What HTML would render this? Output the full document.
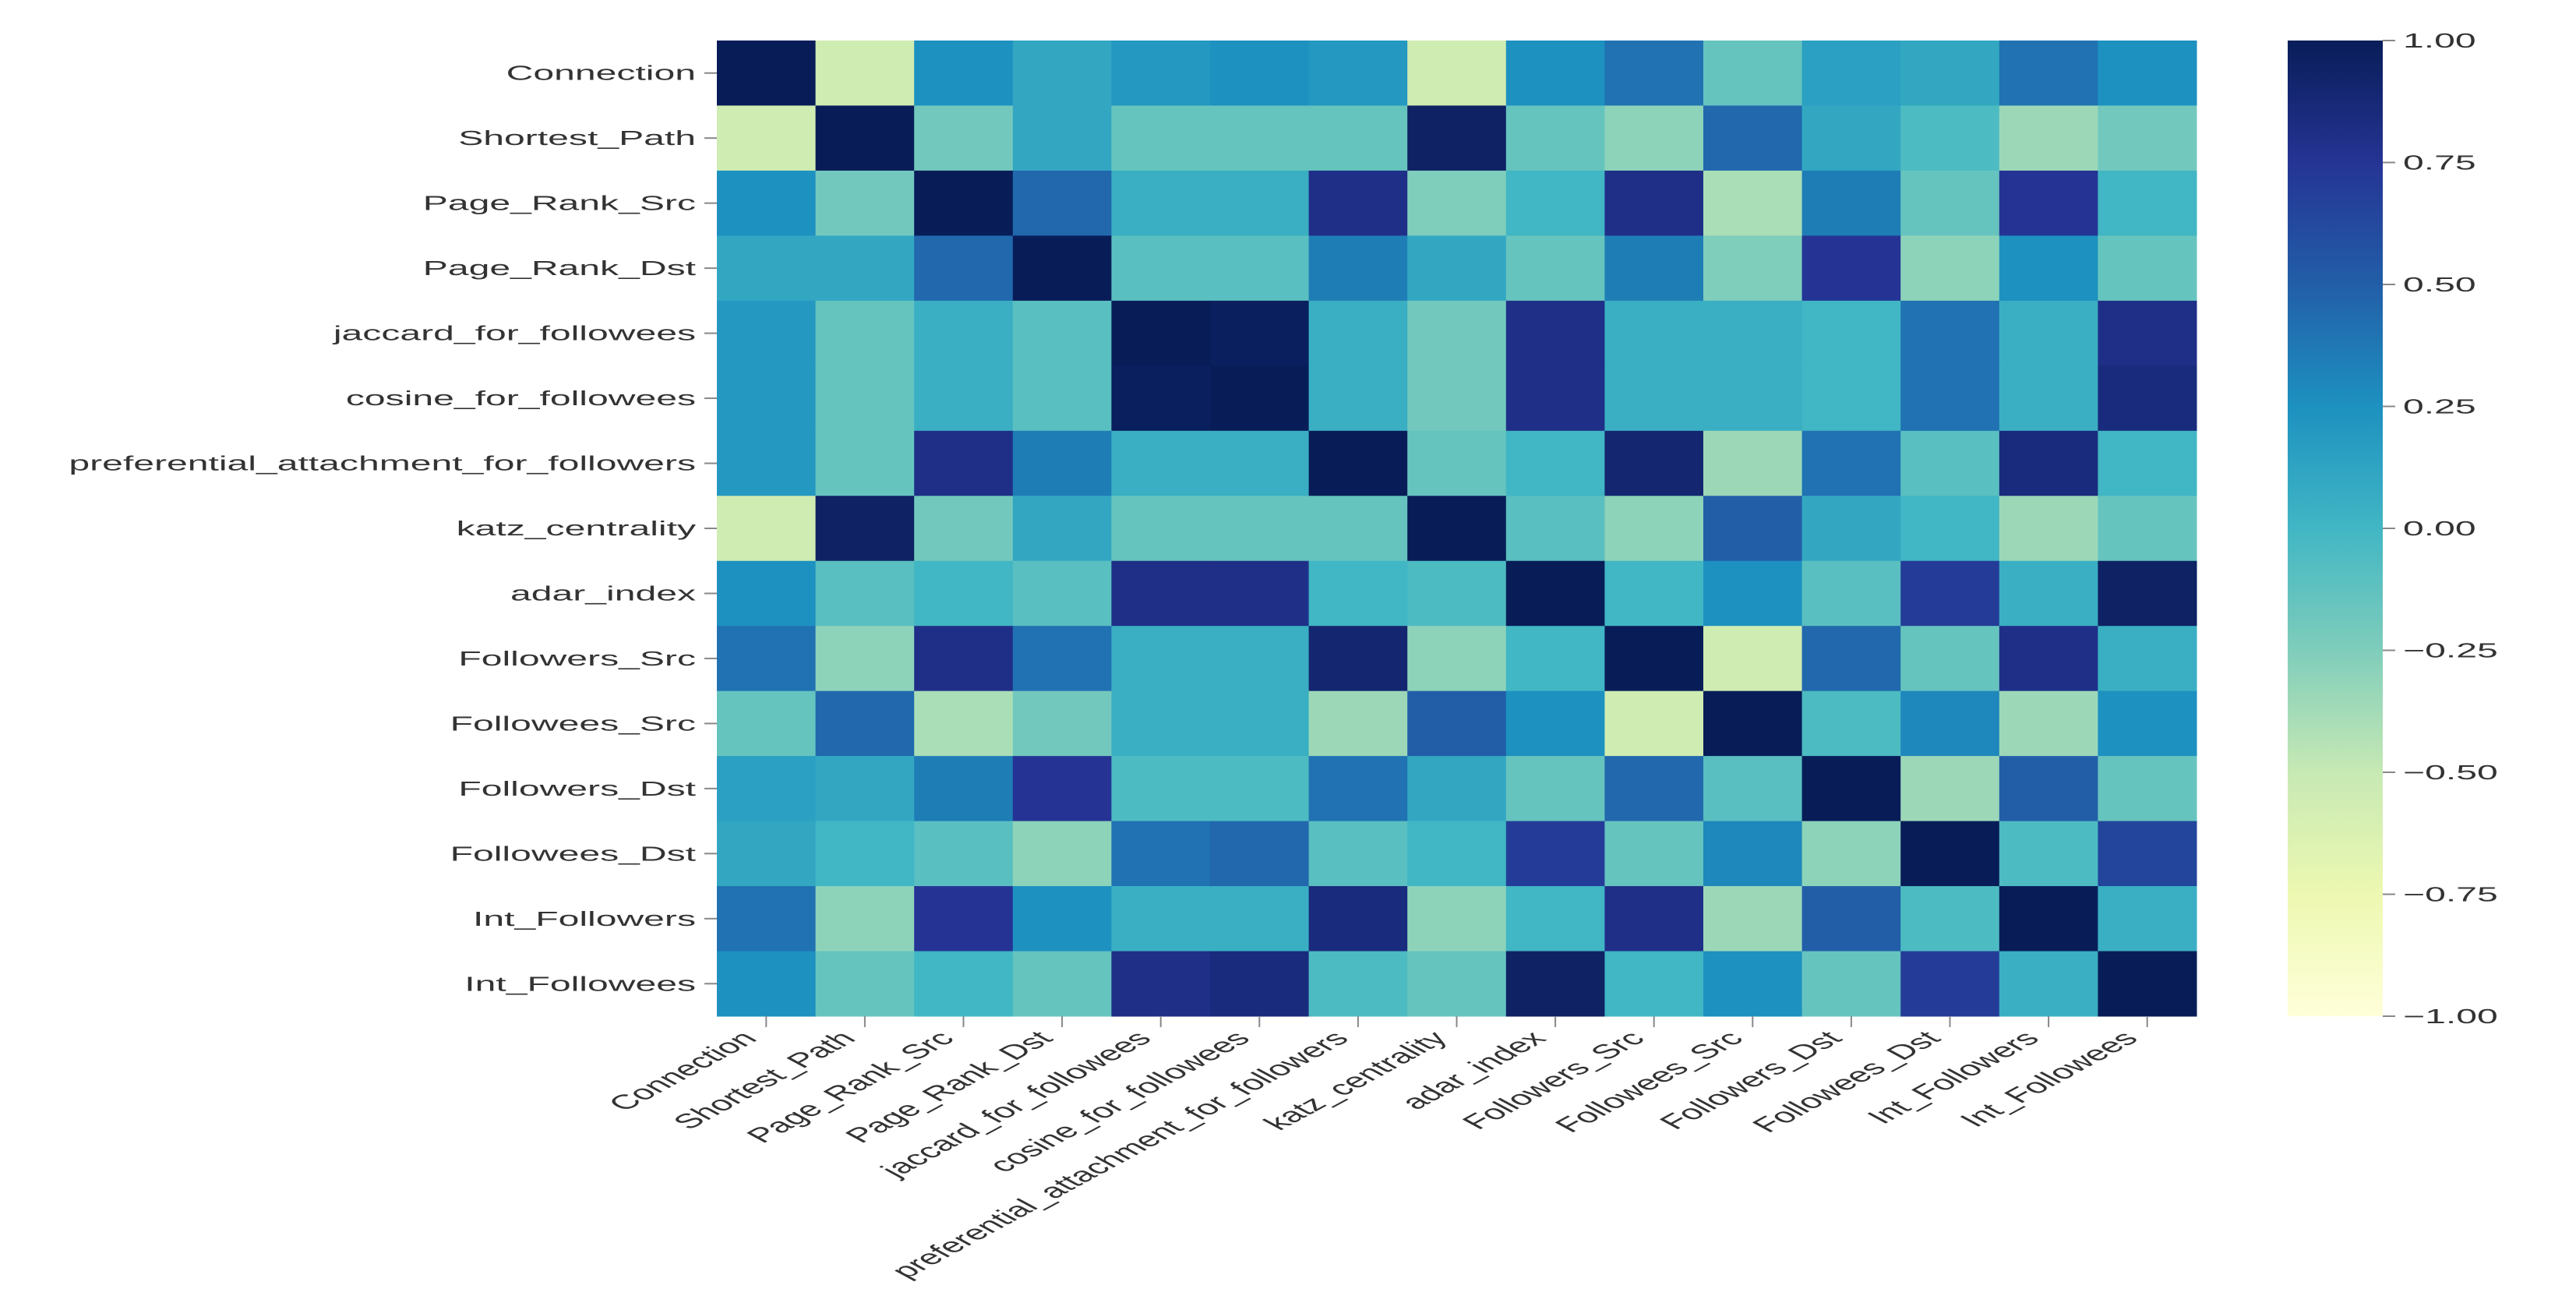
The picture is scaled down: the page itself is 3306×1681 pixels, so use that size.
<!DOCTYPE html>
<html><head><meta charset="utf-8"><style>
html,body{margin:0;padding:0;background:#fff;}
svg{display:block;font-family:"Liberation Sans",sans-serif;}
</style></head><body>
<svg id="chart" width="3306" height="1681" viewBox="0 0 3306 1681" xmlns="http://www.w3.org/2000/svg">
<defs>
<linearGradient id="cbar" x1="0" y1="1" x2="0" y2="0">
<stop offset="0" stop-color="#ffffd9"/><stop offset="0.125" stop-color="#edf8b1"/><stop offset="0.25" stop-color="#c7e9b4"/><stop offset="0.375" stop-color="#7fcdbb"/><stop offset="0.5" stop-color="#41b6c4"/><stop offset="0.625" stop-color="#1d91c0"/><stop offset="0.75" stop-color="#225ea8"/><stop offset="0.875" stop-color="#253494"/><stop offset="1" stop-color="#081d58"/>
</linearGradient>
</defs>
<g id="cells"></g>
<g id="ylab"></g>
<g id="xlab"></g>
<rect x="2936" y="52" width="122" height="1252" fill="url(#cbar)"/>
<g id="cbticks"></g>
</svg>
<script>
const labels = ["Connection","Shortest_Path","Page_Rank_Src","Page_Rank_Dst","jaccard_for_followees","cosine_for_followees","preferential_attachment_for_followers","katz_centrality","adar_index","Followers_Src","Followees_Src","Followers_Dst","Followees_Dst","Int_Followers","Int_Followees"];
const row0 = [1,-0.55,0.25,0.1,0.2,0.25,0.2,-0.55,0.25,0.4,-0.15,0.15,0.1,0.4,0.25];
const row1 = [-0.55,1,-0.2,0.1,-0.15,-0.15,-0.15,0.95,-0.15,-0.3,0.45,0.1,-0.05,-0.35,-0.2];
const row2 = [0.25,-0.2,1,0.45,0.05,0.05,0.8,-0.25,0.0,0.8,-0.4,0.35,-0.15,0.75,0.0];
const row3 = [0.1,0.1,0.45,1,-0.1,-0.1,0.35,0.1,-0.15,0.35,-0.25,0.75,-0.3,0.25,-0.15];
const row4 = [0.2,-0.15,0.05,-0.1,1,0.98,0.05,-0.2,0.8,0.05,0.05,0.0,0.4,0.05,0.8];
const row5 = [0.2,-0.15,0.05,-0.1,0.98,1,0.05,-0.2,0.8,0.05,0.05,0.0,0.4,0.05,0.85];
const row6 = [0.2,-0.15,0.8,0.35,0.05,0.05,1,-0.15,0.0,0.9,-0.35,0.4,-0.1,0.85,0.0];
const row7 = [-0.55,0.95,-0.2,0.1,-0.15,-0.15,-0.15,1,-0.1,-0.3,0.5,0.1,0.0,-0.35,-0.15];
const row8 = [0.25,-0.1,0.0,-0.1,0.8,0.8,0.0,-0.05,1,0.0,0.25,-0.1,0.7,0.05,0.95];
const row9 = [0.4,-0.3,0.8,0.4,0.05,0.05,0.9,-0.3,0.0,1,-0.55,0.45,-0.15,0.8,0.05];
const row10 = [-0.15,0.45,-0.4,-0.2,0.05,0.05,-0.35,0.5,0.25,-0.55,1,-0.05,0.3,-0.35,0.25];
const row11 = [0.15,0.1,0.35,0.75,-0.05,-0.05,0.4,0.1,-0.15,0.45,-0.1,1,-0.35,0.5,-0.15];
const row12 = [0.1,0.0,-0.1,-0.3,0.4,0.45,-0.1,0.0,0.7,-0.15,0.3,-0.3,1,-0.05,0.65];
const row13 = [0.4,-0.3,0.75,0.25,0.05,0.05,0.85,-0.3,0.0,0.8,-0.35,0.5,-0.05,1,0.05];
const row14 = [0.25,-0.15,0.0,-0.15,0.8,0.85,-0.05,-0.15,0.95,0.0,0.25,-0.15,0.7,0.05,1];
const matrix = [row0,row1,row2,row3,row4,row5,row6,row7,row8,row9,row10,row11,row12,row13,row14];
const cbTickValues = [1,0.75,0.5,0.25,0,-0.25,-0.5,-0.75,-1];
const cbTickLabels = ["1.00","0.75","0.50","0.25","0.00","\u22120.25","\u22120.50","\u22120.75","\u22121.00"];

const NS="http://www.w3.org/2000/svg";
const X0=920, X1=2819, Y0=52, Y1=1304, SX=1.85;
const n=labels.length, cw=(X1-X0)/n, ch=(Y1-Y0)/n;
const xPos=i=>X0+i*cw, yPos=i=>Y0+i*ch;
const cbY=v=>Y1-(v+1)/2*(Y1-Y0);
const stops=["#ffffd9","#edf8b1","#c7e9b4","#7fcdbb","#41b6c4","#1d91c0","#225ea8","#253494","#081d58"].map(h=>[1,3,5].map(k=>parseInt(h.substr(k,2),16)));
function color(v){let t=Math.max(0,Math.min(1,(v+1)/2))*8;let i=Math.min(7,Math.floor(t)),f=t-i;const a=stops[i],b=stops[i+1];return "rgb("+a.map((c,k)=>Math.round(c+(b[k]-c)*f)).join(",")+")";}
function mk(tag,attrs,parent){const e=document.createElementNS(NS,tag);for(const k in attrs)e.setAttribute(k,attrs[k]);parent.appendChild(e);return e;}
const cells=document.getElementById('cells'),ylab=document.getElementById('ylab'),xlab=document.getElementById('xlab'),cbt=document.getElementById('cbticks');
matrix.forEach((row,r)=>row.forEach((v,c)=>{
  const el=mk('rect',{x:xPos(c),y:yPos(r),width:cw+0.5,height:ch+0.5,fill:color(v)},cells);
  
  
}));
labels.forEach((l,i)=>{
  const cy=yPos(i)+ch/2;
  mk('line',{x1:X0-16,y1:cy,x2:X0,y2:cy,stroke:"#888","stroke-width":2},ylab);
  const t=mk('text',{transform:`translate(${X0-27},${cy+9}) scale(${SX},1)`,"text-anchor":"end","font-size":26,fill:"#333"},ylab);
  t.textContent=l;
  
  
  const cx=xPos(i)+cw/2;
  mk('line',{x1:cx,y1:Y1,x2:cx,y2:Y1+14,stroke:"#888","stroke-width":2},xlab);
  const u=mk('text',{transform:`translate(${cx-10},${Y1+30}) scale(${SX},1) rotate(-45)`,"text-anchor":"end","font-size":26,fill:"#333"},xlab);
  u.textContent=l;
  
  
});
cbTickValues.forEach((v,i)=>{
  const y=cbY(v);
  mk('line',{x1:3058,y1:y,x2:3074,y2:y,stroke:"#888","stroke-width":2},cbt);
  const t=mk('text',{transform:`translate(3084,${y+9}) scale(${SX},1)`,"font-size":26,fill:"#333"},cbt);
  t.textContent=cbTickLabels[i];
  
  
});
</script>
</body></html>
